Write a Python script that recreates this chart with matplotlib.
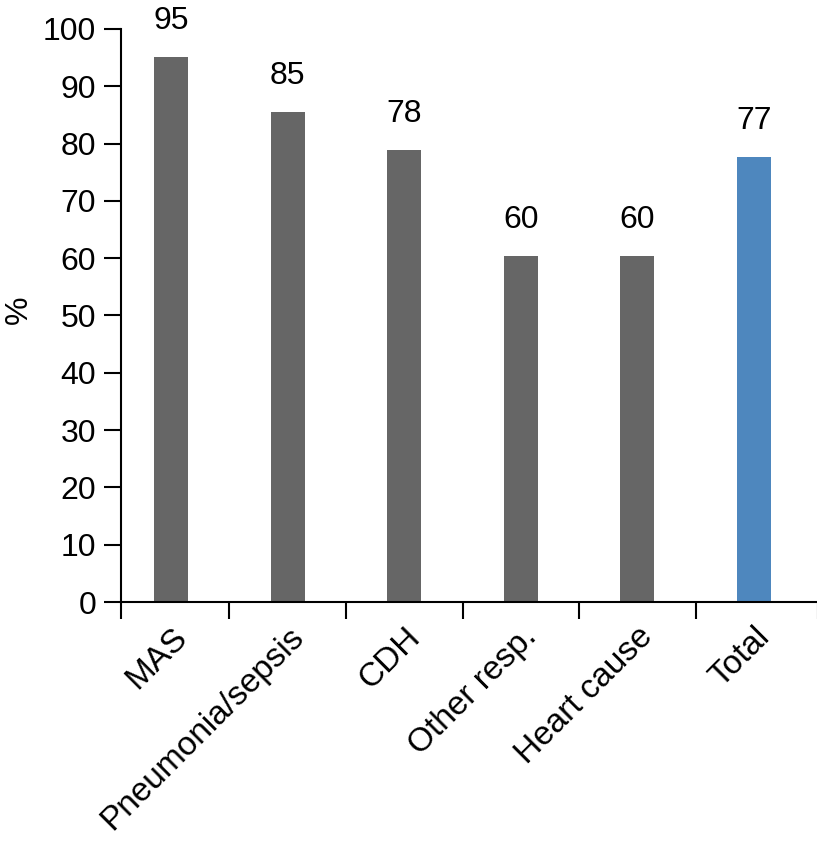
import matplotlib
matplotlib.use("Agg")
import matplotlib.pyplot as plt
import numpy as np

categories = ["MAS", "Pneumonia/sepsis", "CDH", "Other resp.", "Heart cause", "Total"]
values = [95.1, 85.6, 78.8, 60.3, 60.3, 77.6]
value_labels = ["95", "85", "78", "60", "60", "77"]
bar_colors = ["#666666", "#666666", "#666666", "#666666", "#666666", "#4E87BE"]
yticks = [0, 10, 20, 30, 40, 50, 60, 70, 80, 90, 100]

plt.rcParams['font.family'] = ['Liberation Sans', 'DejaVu Sans']
FS = 23

fig = plt.figure(figsize=(8.17, 8.46), dpi=100)
ax = fig.add_axes([121/817, (846-602)/846, (818-121)/817, (602-29)/846])

x = np.arange(len(categories))
ax.bar(x, values, width=0.29, color=bar_colors, zorder=2)

for xi, v, lab in zip(x, values, value_labels):
    ax.annotate(lab, (xi, v), xytext=(0, 21), textcoords='offset pixels',
                ha='center', va='bottom', fontsize=FS, clip_on=False)

xlo, xhi = -0.43, 5.55
ax.set_xlim(xlo, xhi)
ax.set_ylim(0, 100)
ax.set_yticks(yticks)
ax.tick_params(axis='y', labelsize=FS, length=12, width=1.5, pad=6)

ax.set_xticks(x)
ax.set_xticklabels(categories, rotation=45, ha='right', rotation_mode='anchor', fontsize=24)
ax.tick_params(axis='x', which='major', length=0, pad=14)
ax.set_xticks([xlo, 0.5, 1.5, 2.5, 3.5, 4.5, xhi], minor=True)
ax.tick_params(axis='x', which='minor', length=12, width=1.5)

for s in ['top', 'right']:
    ax.spines[s].set_visible(False)
for s in ['left', 'bottom']:
    ax.spines[s].set_linewidth(1.5)

ax.text(-0.146, 0.51, "%", transform=ax.transAxes, rotation=90,
        ha='center', va='center', fontsize=FS)

fig.savefig("out.png", dpi=100)
